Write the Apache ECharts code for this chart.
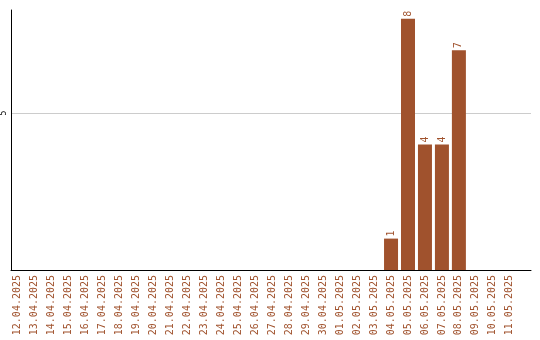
<!DOCTYPE html>
<html><head><meta charset="utf-8">
<script src="https://cdn.jsdelivr.net/npm/echarts@6/dist/echarts.min.js"></script>
<style>html,body{margin:0;padding:0;background:#fff}#c{width:540px;height:340px}</style>
</head><body><div id="c"></div>
<script>
const categories = ["12.04.2025","13.04.2025","14.04.2025","15.04.2025","16.04.2025","17.04.2025","18.04.2025","19.04.2025","20.04.2025","21.04.2025","22.04.2025","23.04.2025","24.04.2025","25.04.2025","26.04.2025","27.04.2025","28.04.2025","29.04.2025","30.04.2025","01.05.2025","02.05.2025","03.05.2025","04.05.2025","05.05.2025","06.05.2025","07.05.2025","08.05.2025","09.05.2025","10.05.2025","11.05.2025"];
const counts = [0,0,0,0,0,0,0,0,0,0,0,0,0,0,0,0,0,0,0,0,0,0,1,8,4,4,7,0,0,0];
const yTicks = [5];

const color = '#a0522d';
const font = 'DejaVu Sans Mono';
const idx = categories.map((c, i) => i);
const chart = echarts.init(document.getElementById('c'), null, {renderer: 'canvas'});
chart.setOption({
  animation: false,
  grid: {left: 10, top: 10, right: 9, bottom: 70, containLabel: false},
  xAxis: {
    type: 'value', min: -0.4, max: 30.25,
    axisLine: {show: true, onZero: false, lineStyle: {color: '#000', width: 1}},
    axisTick: {show: false},
    splitLine: {show: false},
    axisLabel: {
      customValues: idx, rotate: 90, margin: 5,
      color: color, fontFamily: font, fontSize: 10,
      formatter: v => categories[Math.round(v)] || ''
    }
  },
  yAxis: {
    type: 'value', min: 0, max: 8.28, interval: 5,
    axisLine: {show: true, onZero: false, lineStyle: {color: '#000', width: 1}},
    axisTick: {show: false},
    splitLine: {show: true, showMinLine: false, showMaxLine: false, lineStyle: {color: '#cccccc', width: 1}},
    axisLabel: {
      customValues: yTicks, rotate: 90, margin: 3,
      color: '#000', fontFamily: font, fontSize: 8
    }
  },
  series: [{
    type: 'bar', barWidth: 14,
    data: counts.map((v, i) => v > 0 ? [i, v] : null).filter(d => d),
    itemStyle: {color: color},
    label: {
      show: true, position: 'top', rotate: 90, distance: 2,
      align: 'left', verticalAlign: 'middle',
      color: color, fontFamily: font, fontSize: 10
    }
  }]
});
</script></body></html>
